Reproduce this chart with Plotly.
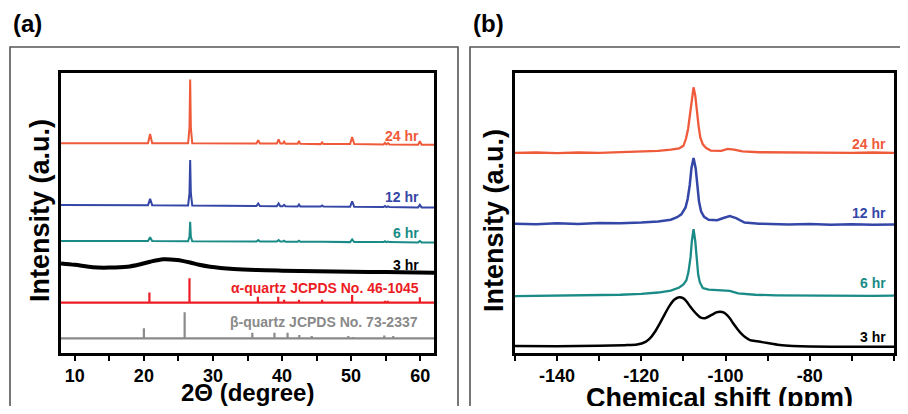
import plotly.graph_objects as go

# ---------------- data: panel (a) XRD ----------------
xrd_x = [8, 20.6, 20.9, 21.2, 26.4, 26.6, 26.7, 26.8, 27.0, 36.3, 36.55, 36.8,
         39.25, 39.5, 39.75, 40.1, 40.3, 40.5, 42.25, 42.45, 42.65, 45.6, 45.8, 46.0,
         49.85, 50.15, 50.45, 54.7, 54.9, 55.1, 55.35, 55.55, 59.7, 59.95, 60.2, 62]
xrd_24 = [74.9, 74.9, 78.2, 74.9, 74.9, 80.5, 97.7, 80.5, 74.9, 74.8, 76.0, 74.8,
          74.8, 76.3, 74.8, 74.8, 75.5, 74.7, 74.7, 75.7, 74.7, 74.6, 75.2, 74.6,
          74.6, 77.1, 74.6, 74.5, 75.1, 74.5, 74.9, 74.5, 74.4, 75.6, 74.4, 74.4]
xrd_12 = [52.9, 52.8, 55.1, 52.8, 52.7, 57.0, 68.9, 57.0, 52.7, 52.5, 53.4, 52.5,
          52.4, 53.4, 52.4, 52.4, 52.9, 52.4, 52.3, 53.0, 52.3, 52.3, 52.7, 52.3,
          52.2, 54.2, 52.2, 52.1, 52.5, 52.1, 52.4, 52.1, 52.0, 52.9, 52.0, 52.0]
xrd_6 = [40.0, 40.0, 41.3, 40.0, 39.9, 41.5, 46.9, 41.5, 39.9, 39.8, 40.3, 39.8,
         39.8, 40.3, 39.8, 39.8, 40.1, 39.7, 39.7, 40.1, 39.7, 39.7, 39.9, 39.7,
         39.6, 40.6, 39.6, 39.6, 39.9, 39.6, 39.8, 39.6, 39.5, 40.0, 39.5, 39.5]
xrd3_x = [8, 10, 12.6, 15, 17.6, 19.5, 20.9, 22.8, 24.8, 26.7, 28, 29.6, 33, 36.4, 40, 45, 50, 55, 62]
xrd3_y = [32.0, 31.5, 30.6, 30.5, 30.8, 31.7, 32.6, 33.5, 33.2, 32.3, 31.5, 30.8, 30.0, 29.6, 29.4, 29.2, 29.0, 28.9, 28.7]

alpha_base = 18.0
alpha_pos = [20.8, 26.6, 36.5, 39.45, 40.3, 42.45, 45.8, 50.15, 54.9, 55.3, 59.95]
alpha_h = [3.6, 8.7, 2.1, 2.1, 1.0, 1.0, 1.0, 2.75, 0.7, 0.7, 1.9]
beta_base = 5.25
beta_pos = [20.0, 25.9, 35.7, 38.9, 40.8, 42.5, 44.3, 49.6, 50.3, 54.8, 56.1]
beta_h = [3.6, 9.3, 2.0, 2.0, 2.0, 1.2, 0.8, 0.8, 0.5, 1.0, 0.8]

# ---------------- data: panel (b) 29Si NMR ----------------
nmr24_x = [-150, -145, -140, -135, -130, -125, -120, -116, -113, -111, -110, -109.4, -108.9, -108.4,
           -108.0, -107.6, -107.2, -106.8, -106.4, -106.0, -105.4, -104.6, -103.5, -101, -99.5, -98,
           -96, -92, -85, -80, -75, -70, -65, -60]
nmr24_y = [71.5, 71.6, 71.4, 71.6, 71.5, 71.7, 71.9, 72.2, 72.6, 73.1, 74.0, 76.5, 80.0, 86.5,
           92.0, 94.9, 92.0, 86.0, 81.0, 77.0, 74.5, 73.2, 72.3, 72.2, 72.9, 72.6,
           72.0, 71.7, 71.6, 71.5, 71.6, 71.5, 71.6, 71.5]
nmr12_x = [-150, -145, -140, -135, -130, -125, -120, -116, -113, -111.5, -110.5, -109.5, -109.0, -108.5,
           -108.1, -107.6, -107.1, -106.7, -106.3, -105.8, -105.1, -104, -102, -100.5, -99, -97.5,
           -95.5, -92, -85, -80, -75, -70, -65, -60]
nmr12_y = [46.2, 46.0, 46.3, 46.1, 46.4, 46.3, 46.6, 47.0, 47.6, 48.5, 49.5, 52.0, 55.0, 60.0,
           66.0, 69.6, 66.0, 60.0, 54.0, 50.5, 48.6, 47.6, 47.4, 48.2, 48.9, 48.2,
           46.6, 46.2, 45.9, 46.1, 45.8, 46.0, 45.8, 45.9]
nmr6_x = [-150, -145, -140, -135, -130, -125, -120, -116, -113, -111, -110, -109.3, -108.8, -108.3,
          -108.0, -107.6, -107.2, -106.9, -106.5, -106.1, -105.4, -104, -101, -99, -97, -93,
          -88, -80, -75, -70, -65, -60]
nmr6_y = [20.3, 20.4, 20.3, 20.6, 20.5, 20.8, 21.1, 21.6, 22.3, 23.4, 24.5, 26.0, 29.0, 34.4,
          40.0, 44.2, 40.0, 34.4, 28.0, 25.2, 23.2, 22.6, 22.5, 22.2, 21.3, 20.8,
          20.6, 20.5, 20.4, 20.6, 20.4, 20.5]
nmr3_x = [-150, -140, -130, -124, -121, -119, -117.9, -116.8, -115.6, -114.4, -113.2, -112.2, -111.0,
          -110.0, -109.2, -108.4, -107.6, -106.8, -106.0, -104.9, -103.3, -102.2, -101.3, -100.5,
          -99.7, -98.9, -98.2, -97.2, -96.2, -95.2, -94.2, -92.5, -91.0, -89, -87.1, -84, -80, -70, -60]
nmr3_y = [2.5, 2.4, 2.6, 2.8, 3.0, 4.0, 5.3, 7.5, 10.6, 14.0, 17.1, 19.0, 19.9,
          19.5, 18.3, 16.6, 15.1, 13.8, 12.75, 12.4, 13.6, 14.5, 14.75, 14.5,
          13.6, 12.2, 10.6, 8.6, 6.8, 5.5, 4.6, 4.2, 3.8, 3.3, 2.85, 2.5, 2.3, 2.25, 2.25]

a_ticks = [10, 20, 30, 40, 50, 60]
a_ticktext = ["10", "20", "30", "40", "50", "60"]
b_ticks = [-140, -120, -100, -80, -60]
b_ticktext = ["-140", "-120", "-100", "-80", "-60"]

C24, C12, C6, C3 = "#ef5a3a", "#3446a6", "#1a8b86", "#000000"
CA, CB = "#ec1c24", "#8a8a8a"
FONT = "Arial, Liberation Sans, sans-serif"


def stick_path(base, pos, h, x0, x1):
    xs, ys = [x0], [base]
    for p, v in zip(pos, h):
        xs += [p, p, p]
        ys += [base, base + v, base]
    xs.append(x1)
    ys.append(base)
    return xs, ys


fig = go.Figure()
# panel (a)
fig.add_trace(go.Scatter(x=xrd_x, y=xrd_24, mode="lines", line=dict(color=C24, width=2), xaxis="x", yaxis="y"))
fig.add_trace(go.Scatter(x=xrd_x, y=xrd_12, mode="lines", line=dict(color=C12, width=2), xaxis="x", yaxis="y"))
fig.add_trace(go.Scatter(x=xrd_x, y=xrd_6, mode="lines", line=dict(color=C6, width=2), xaxis="x", yaxis="y"))
fig.add_trace(go.Scatter(x=xrd3_x, y=xrd3_y, mode="lines", line=dict(color=C3, width=4, shape="spline", smoothing=0.8),
                         xaxis="x", yaxis="y"))
ax, ay = stick_path(alpha_base, alpha_pos, alpha_h, 8, 62)
fig.add_trace(go.Scatter(x=ax, y=ay, mode="lines", line=dict(color=CA, width=2.2), xaxis="x", yaxis="y"))
bx, by = stick_path(beta_base, beta_pos, beta_h, 8, 62)
fig.add_trace(go.Scatter(x=bx, y=by, mode="lines", line=dict(color=CB, width=2.2), xaxis="x", yaxis="y"))

# panel (b)
fig.add_trace(go.Scatter(x=nmr24_x, y=nmr24_y, mode="lines", line=dict(color=C24, width=2.3), xaxis="x2", yaxis="y2"))
fig.add_trace(go.Scatter(x=nmr12_x, y=nmr12_y, mode="lines", line=dict(color=C12, width=2.5), xaxis="x2", yaxis="y2"))
fig.add_trace(go.Scatter(x=nmr6_x, y=nmr6_y, mode="lines", line=dict(color=C6, width=2.3), xaxis="x2", yaxis="y2"))
fig.add_trace(go.Scatter(x=nmr3_x, y=nmr3_y, mode="lines", line=dict(color=C3, width=2.5, shape="spline", smoothing=0.6),
                         xaxis="x2", yaxis="y2"))

# page body has an 8px margin: figure is drawn at offset (8, 8) and sized to fit the window
OX, OY = 8, 8
W, H = 892, 398
def px(v):
    return (v - OX) / W
def py(v):
    return 1 - (v - OY) / H

axis_common = dict(showline=True, linecolor="black", linewidth=2.5, mirror=True, showgrid=False, zeroline=False,
                   ticks="outside", ticklen=5, tickwidth=2, tickcolor="black",
                   tickfont=dict(family=FONT, size=18, color="black", weight="bold"))
yaxis_common = dict(showline=True, linecolor="black", linewidth=2.5, mirror=True, showgrid=False, zeroline=False,
                    showticklabels=False, ticks="", range=[0, 100], fixedrange=True)

fig.update_layout(
    width=W, height=H, margin=dict(l=0, r=0, t=0, b=0),
    paper_bgcolor="white", plot_bgcolor="white", showlegend=False,
    xaxis=dict(domain=[px(61), px(434)], range=[8, 62], tickvals=a_ticks, ticktext=a_ticktext,
               minor=dict(dtick=5, tick0=10, ticks="outside", ticklen=5, tickwidth=2, tickcolor="black"),
               anchor="y", **axis_common),
    yaxis=dict(domain=[py(353), py(73)], anchor="x", **yaxis_common),
    xaxis2=dict(domain=[px(515), px(894)], range=[-150, -60], tickvals=b_ticks, ticktext=b_ticktext,
                minor=dict(dtick=10, tick0=-140, ticks="outside", ticklen=5, tickwidth=2, tickcolor="black"),
                anchor="y2", **axis_common),
    yaxis2=dict(domain=[py(353), py(73)], anchor="x2", **yaxis_common),
)

# outer frames
fig.add_shape(type="rect", xref="paper", yref="paper", x0=px(10), x1=px(458), y0=-0.05, y1=py(47),
              line=dict(color="#555555", width=1.6), fillcolor="rgba(0,0,0,0)", layer="below")
fig.add_shape(type="rect", xref="paper", yref="paper", x0=px(470), x1=1.05, y0=-0.05, y1=py(47),
              line=dict(color="#555555", width=1.6), fillcolor="rgba(0,0,0,0)", layer="below")

def ann(text, x, y, xref, yref, size, color="black", xanchor="center", angle=0):
    fig.add_annotation(text=text, x=x, y=y, xref=xref, yref=yref, showarrow=False, xanchor=xanchor,
                       yanchor="middle", textangle=angle, borderpad=0,
                       font=dict(family=FONT, size=size, color=color, weight="bold"))

# series labels panel (a)
ann("24 hr", 60, 77.5, "x", "y", 14, C24, "right")
ann("12 hr", 60, 55.7, "x", "y", 14, C12, "right")
ann("6 hr", 60, 42.9, "x", "y", 14, C6, "right")
ann("3 hr", 60, 31.4, "x", "y", 14, C3, "right")
ann("α-quartz JCPDS No. 46-1045", 60, 23.2, "x", "y", 14, CA, "right")
ann("β-quartz JCPDS No. 73-2337", 59.8, 11.1, "x", "y", 14, CB, "right")
# series labels panel (b)
ann("24 hr", -61.6, 74.6, "x2", "y2", 14, C24, "right")
ann("12 hr", -61.6, 50.1, "x2", "y2", 14, C12, "right")
ann("6 hr", -61.6, 24.9, "x2", "y2", 14, C6, "right")
ann("3 hr", -61.6, 5.8, "x2", "y2", 14, C3, "right")

# axis titles
ann("2Θ (degree)", px(247.5), py(392), "paper", "paper", 24)
ann("Chemical shift (ppm)", px(719), py(398), "paper", "paper", 27)
ann("Intensity (a.u.)", px(40), py(211), "paper", "paper", 27, angle=-90)
ann("Intensity (a.u.)", px(494), py(221), "paper", "paper", 27, angle=-90)
# panel labels
ann("(a)", px(12), py(24), "paper", "paper", 24, xanchor="left")
ann("(b)", px(472), py(24), "paper", "paper", 24, xanchor="left")

fig.write_html("out.html", config={"displayModeBar": False})
